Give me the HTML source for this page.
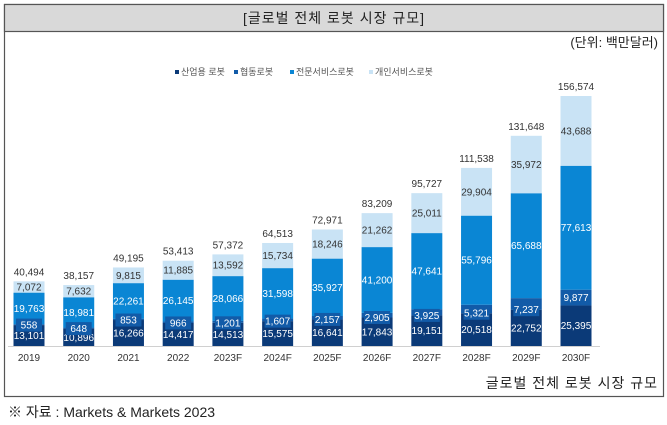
<!DOCTYPE html>
<html><head><meta charset="utf-8">
<style>
html,body{margin:0;padding:0;background:#fff;width:667px;height:425px;overflow:hidden;font-family:"Liberation Sans","Noto Sans CJK KR",sans-serif;}
</style></head>
<body>
<svg width="667" height="425" xmlns="http://www.w3.org/2000/svg" style="font-family:'Liberation Sans','Noto Sans CJK KR',sans-serif">
<rect x="4.5" y="4.5" width="659" height="392" fill="#fff" stroke="#555" stroke-width="1.2"/>
<rect x="4.5" y="4.5" width="659" height="27" fill="#d9d9d9" stroke="#555" stroke-width="1.2"/>
<text x="334" y="23" text-anchor="middle" font-size="14" fill="#222" letter-spacing="1">[글로벌 전체 로봇 시장 규모]</text>
<text x="658" y="47" text-anchor="end" font-size="13" fill="#222">(단위: 백만달러)</text>
<g id="legend"></g>
<g id="bars"></g>
<g id="labels"></g>
<line x1="8" y1="346.5" x2="600" y2="346.5" stroke="#d0d0d0"/>
<g id="xlabels"></g>
<text x="658" y="388" text-anchor="end" font-size="14" fill="#222" letter-spacing="1">글로벌 전체 로봇 시장 규모</text>
<text x="8" y="417" font-size="14" fill="#222">※ 자료 : Markets &amp; Markets 2023</text>
</svg>
<script>
const categories=["2019","2020","2021","2022","2023F","2024F","2025F","2026F","2027F","2028F","2029F","2030F"];
const industrial=[13101,10896,16266,14417,14513,15575,16641,17843,19151,20518,22752,25395];
const collaborative=[558,648,853,966,1201,1607,2157,2905,3925,5321,7237,9877];
const professional=[19763,18981,22261,26145,28066,31598,35927,41200,47641,55796,65688,77613];
const personal=[7072,7632,9815,11885,13592,15734,18246,21262,25011,29904,35972,43688];
const totals=[40494,38157,49195,53413,57372,64513,72971,83209,95727,111538,131648,156574];
const seriesNames=["산업용 로봇","협동로봇","전문서비스로봇","개인서비스로봇"];
const colors=["#0b3a78","#125ba8","#0a86d4","#c9e3f5"];
const NS="http://www.w3.org/2000/svg";
const base=346, scale=250/156574, x0=29, step=(576-29)/11, bw=31;
function xc(i){return x0+i*step;}
function yv(v){return v*scale;}
function fmt(n){return n.toLocaleString("en-US");}
const series=[industrial,collaborative,professional,personal];
const bars=document.getElementById("bars");
const labels=document.getElementById("labels");
const names=["industrial","collaborative","professional","personal"];
categories.forEach((c,i)=>{
  let y=base;
  series.forEach((s,k)=>{
    const h=yv(s[i]);
    const r=document.createElementNS(NS,"rect");
    r.setAttribute("x",xc(i)-bw/2);r.setAttribute("y",y-h);
    r.setAttribute("width",bw);r.setAttribute("height",h);
    r.setAttribute("fill",colors[k]);
    
    
    bars.appendChild(r);
    let center=y-h/2;
    if(k===1 && h<12){
      center=y;
      const bg=document.createElementNS(NS,"rect");
      bg.setAttribute("x",xc(i)-13);bg.setAttribute("y",center-6.5);
      bg.setAttribute("width",26);bg.setAttribute("height",13);
      bg.setAttribute("fill",colors[1]);
      
      
      labels.appendChild(bg);
    }
    y-=h;
    const t=document.createElementNS(NS,"text");
    t.setAttribute("x",xc(i));t.setAttribute("y",center+3.5);
    t.setAttribute("text-anchor","middle");t.setAttribute("font-size","10");
    t.setAttribute("fill",k===3?"#333":"#fff");
    t.textContent=fmt(s[i]);
    
    
    labels.appendChild(t);
  });
  const tt=document.createElementNS(NS,"text");
  tt.setAttribute("x",xc(i));tt.setAttribute("y",base-yv(totals[i])-6);
  tt.setAttribute("text-anchor","middle");tt.setAttribute("font-size","10");tt.setAttribute("fill","#333");
  tt.textContent=fmt(totals[i]);
  
  
  labels.appendChild(tt);
  const xl=document.createElementNS(NS,"text");
  xl.setAttribute("x",xc(i));xl.setAttribute("y",361);
  xl.setAttribute("text-anchor","middle");xl.setAttribute("font-size","10");xl.setAttribute("fill","#333");
  xl.textContent=c;
  
  
  document.getElementById("xlabels").appendChild(xl);
});
const lg=document.getElementById("legend");
const lx=[175,234,290,369];
seriesNames.forEach((n,k)=>{
  const r=document.createElementNS(NS,"rect");
  r.setAttribute("x",lx[k]);r.setAttribute("y",70);r.setAttribute("width",4);r.setAttribute("height",4);
  r.setAttribute("fill",colors[k]);
  
  
  lg.appendChild(r);
  const t=document.createElementNS(NS,"text");
  t.setAttribute("x",lx[k]+6);t.setAttribute("y",75);t.setAttribute("font-size","9");t.setAttribute("fill","#555");
  t.textContent=n;
  
  
  lg.appendChild(t);
});
</script>
</body></html>
